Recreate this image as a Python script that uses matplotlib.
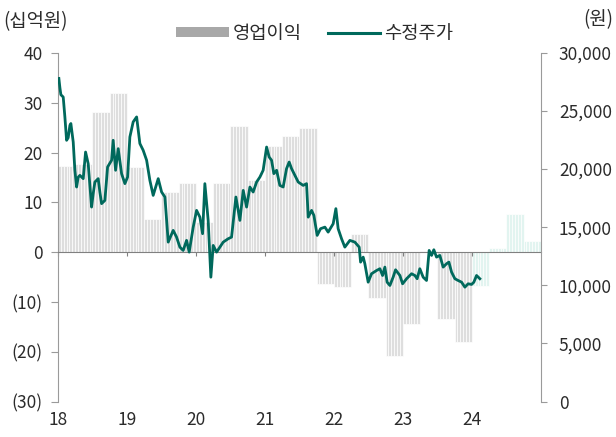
import numpy as np
import matplotlib
matplotlib.use("Agg")
import matplotlib.pyplot as plt
from matplotlib.patches import Patch
from matplotlib.lines import Line2D

plt.rcParams['font.family'] = ['Noto Sans CJK KR', 'DejaVu Sans']

# quarterly operating profit (십억원), 2018Q1 .. 2024Q4
op_years = [2018, 2019, 2020, 2021, 2022, 2023, 2024]
op_profit = [
    17.3, 17.6, 28.1, 31.9,
    17.1, 6.7, 12.0, 13.8,
    6.0, 13.8, 25.4, 14.5,
    21.3, 23.3, 25.0, -6.4,
    -6.9, 3.7, -9.2, -20.9,
    -14.5, 0.3, -13.4, -18.1,
    -6.8, 0.8, 7.7, 2.3,
]
n_actual = 24  # from 2024Q1 on: estimates

# adjusted share price (원), time in decimal years
px_time = [
    2018.014, 2018.029, 2018.043, 2018.077, 2018.101, 2018.126, 2018.149, 2018.174,
    2018.188, 2018.222, 2018.246, 2018.271, 2018.294, 2018.319, 2018.367, 2018.401,
    2018.439, 2018.464, 2018.488, 2018.512, 2018.536, 2018.584, 2018.609, 2018.633,
    2018.681, 2018.720, 2018.778, 2018.801, 2018.836, 2018.874, 2018.923, 2018.971,
    2019.010, 2019.043, 2019.091, 2019.141, 2019.188, 2019.236, 2019.286, 2019.333,
    2019.381, 2019.454, 2019.503, 2019.551, 2019.599, 2019.671, 2019.720, 2019.768,
    2019.816, 2019.865, 2019.903, 2019.961, 2020.010, 2020.058, 2020.097, 2020.130,
    2020.178, 2020.217, 2020.251, 2020.300, 2020.348, 2020.396, 2020.468, 2020.517,
    2020.580, 2020.638, 2020.686, 2020.735, 2020.783, 2020.830, 2020.880, 2020.928,
    2020.975, 2021.025, 2021.062, 2021.097, 2021.130, 2021.170, 2021.217, 2021.265,
    2021.314, 2021.352, 2021.387, 2021.435, 2021.483, 2021.555, 2021.604, 2021.628,
    2021.677, 2021.710, 2021.758, 2021.807, 2021.870, 2021.917, 2021.990, 2022.029,
    2022.062, 2022.112, 2022.159, 2022.232, 2022.304, 2022.367, 2022.387, 2022.425,
    2022.449, 2022.497, 2022.546, 2022.619, 2022.667, 2022.706, 2022.739, 2022.772,
    2022.812, 2022.859, 2022.894, 2022.957, 2022.996, 2023.054, 2023.126, 2023.174,
    2023.207, 2023.246, 2023.294, 2023.343, 2023.381, 2023.416, 2023.449, 2023.488,
    2023.536, 2023.584, 2023.633, 2023.667, 2023.706, 2023.754, 2023.801, 2023.851,
    2023.899, 2023.946, 2023.996, 2024.029, 2024.068, 2024.116,
]
px_price = [
    27800, 27000, 26400, 26200, 24500, 22480, 22700, 23770,
    23920, 22330, 19900, 18460, 19300, 19465, 19180, 21470,
    20470, 18500, 16735, 17900, 18890, 19180, 18000, 17030,
    17310, 20180, 20760, 22480, 19900, 21760, 19610, 18750,
    19320, 22765, 24060, 24490, 22200, 21620, 20760, 19035,
    17740, 19180, 18030, 17600, 13720, 14730, 14150, 13290,
    13005, 13870, 12860, 15010, 16450, 15870, 14445, 18750,
    15590, 10705, 13435, 12860, 13290, 13720, 14010, 14150,
    17600, 15590, 18170, 16735, 18460, 18030, 18890, 19320,
    19900, 21900, 21040, 20760, 19610, 19900, 18600, 18460,
    20040, 20610, 20040, 19465, 18890, 18600, 18750, 15870,
    16450, 16020, 14300, 14875, 15010, 14580, 15300, 16600,
    14875, 14000, 13290, 13870, 13720, 13290, 12000, 12430,
    11860, 10275, 11000, 11280, 11430, 10850, 11570, 10275,
    9990, 10705, 11340, 10850, 10135, 10570, 11000, 10850,
    10570, 11430, 10705, 10420, 13005, 12575, 13065, 12430,
    12575, 11570, 11860, 12000, 11140, 10570, 10420, 10275,
    9845, 10135, 10080, 10275, 10850, 10570,
]

year_labels = ["18", "19", "20", "21", "22", "23", "24"]
left_ticks = [40, 30, 20, 10, 0, -10, -20, -30]
right_ticks = [0, 5000, 10000, 15000, 20000, 25000, 30000]

bar_grey = '#dedede'
bar_mint = '#e2f4f0'
line_col = '#00695c'
axis_col = '#9a9a9a'
text_col = '#2b2b2b'

fig = plt.figure(figsize=(6.16, 4.37), dpi=100)
ax = fig.add_axes([0.094, 0.081, 0.784, 0.798])
ax2 = ax.twinx()

# each quarter drawn as thin stripes, like the daily bars of the original
n_sub = 6
q_start = op_years[0] + np.arange(len(op_profit)) * 0.25
sub_w = 0.25 / n_sub
for i, v in enumerate(op_profit):
    xs = q_start[i] + (np.arange(n_sub) + 0.5) * sub_w
    col = bar_grey if i < n_actual else bar_mint
    ax.bar(xs, [v] * n_sub, width=sub_w, color=col,
           edgecolor='white', linewidth=0.5, zorder=1)

ax.set_xlim(2018, 2025)
ax.set_ylim(-30, 40)
ax.set_yticks(left_ticks)
ax.set_yticklabels([f"({-t})" if t < 0 else f"{t}" for t in left_ticks],
                   fontsize=12.5, color=text_col)

# zero line carries the year tick marks
ax.spines['bottom'].set_position(('data', 0))
ax.spines['bottom'].set_color('#808080')
ax.set_xticks(op_years)
ax.tick_params(axis='x', direction='out', length=3, color='#808080',
               labelbottom=False)
for yr, lab in zip(op_years, year_labels):
    ax.text(yr, -0.052, lab, transform=ax.get_xaxis_transform(),
            ha='center', va='center', fontsize=12.5, color=text_col)

ax.tick_params(axis='y', direction='out', length=5, color=axis_col, pad=6)
ax.spines['left'].set_color(axis_col)
for s in ['top', 'right']:
    ax.spines[s].set_visible(False)

ax2.plot(px_time, px_price, color=line_col, lw=2.0, zorder=3)
ax2.set_ylim(0, 30000)
ax2.set_yticks(right_ticks)
ax2.set_yticklabels([f"{t:,}" for t in right_ticks], fontsize=12.5, color=text_col)
ax2.tick_params(axis='y', direction='out', length=4, color=axis_col, pad=9)
ax2.spines['right'].set_color(axis_col)
for s in ['top', 'left', 'bottom']:
    ax2.spines[s].set_visible(False)

fig.text(0.006, 0.950, "(십억원)", fontsize=13.5, color=text_col, va='center')
fig.text(0.995, 0.954, "(원)", fontsize=13.5, color=text_col, va='center', ha='right')

handles = [Patch(facecolor='#a8a8a8', edgecolor='none'),
           Line2D([0], [0], color=line_col, lw=2.2)]
fig.legend(handles, ["영업이익", "수정주가"], loc='center', ncol=2,
           bbox_to_anchor=(0.511, 0.924), frameon=False, fontsize=13.5,
           handlelength=2.8, handleheight=0.4, handletextpad=0.2,
           columnspacing=1.4, labelcolor=text_col)

fig.savefig("out.png", dpi=100)
